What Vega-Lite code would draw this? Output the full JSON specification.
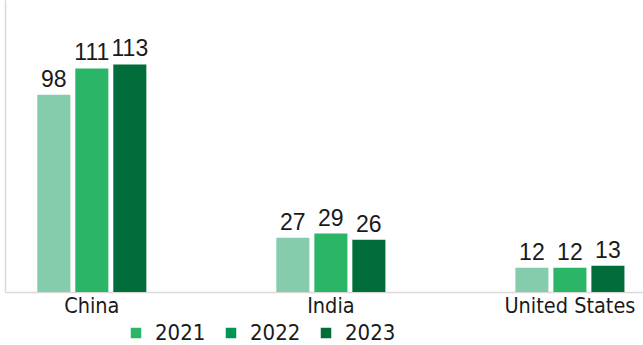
{
  "$schema": "https://vega.github.io/schema/vega-lite/v6.json",
  "width": 638,
  "height": 292,
  "autosize": {"type": "none"},
  "padding": {"left": 5, "top": 0, "right": 0, "bottom": 53},
  "background": "white",
  "config": {"view": {"stroke": null}},
  "data": {
    "values": [
      {"country": "China", "year": "2021", "value": 98},
      {"country": "China", "year": "2022", "value": 111},
      {"country": "China", "year": "2023", "value": 113},
      {"country": "India", "year": "2021", "value": 27},
      {"country": "India", "year": "2022", "value": 29},
      {"country": "India", "year": "2023", "value": 26},
      {"country": "United States", "year": "2021", "value": 12},
      {"country": "United States", "year": "2022", "value": 12},
      {"country": "United States", "year": "2023", "value": 13}
    ]
  },
  "encoding": {
    "x": {
      "field": "country", "type": "nominal", "sort": null,
      "scale": {"paddingInner": 0.5, "paddingOuter": 0.0845, "align": 0.67},
      "axis": {"title": null, "labelAngle": 0, "domainColor": "#d9d9d9", "domainWidth": 1.5, "ticks": false,
        "labelFontSize": 21.5, "labelFont": "DejaVu Sans Condensed, Roboto Condensed, Roboto", "labelColor": "#1a1a1a", "labelPadding": 3}
    },
    "xOffset": {"field": "year", "type": "nominal", "scale": {"paddingInner": 0.13, "paddingOuter": 0.1375}},
    "y": {
      "field": "value", "type": "quantitative", "scale": {"domain": [0, 145]},
      "axis": {"title": null, "labels": false, "ticks": false, "grid": false, "domainColor": "#d9d9d9", "domainWidth": 1.5}
    }
  },
  "layer": [
    {
      "mark": {"type": "bar"},
      "encoding": {
        "color": {
          "field": "year", "type": "nominal",
          "scale": {"domain": ["2021", "2022", "2023"], "range": ["#84ccac", "#2bb567", "#006d3a"]},
          "legend": null
        }
      }
    },
    {
      "mark": {"type": "bar"},
      "encoding": {
        "y": {"datum": 0, "type": "quantitative"},
        "color": {
          "field": "year", "type": "nominal",
          "scale": {"domain": ["2021", "2022", "2023"], "range": ["#2bb567", "#00964f", "#006d3a"]},
          "legend": {
            "title": null, "orient": "none", "direction": "horizontal",
            "legendX": 120, "legendY": 322,
            "symbolType": "square", "symbolSize": 110, "symbolStrokeWidth": 0, "symbolOpacity": 1,
            "labelFont": "DejaVu Sans Condensed, Roboto Condensed, Roboto", "labelFontSize": 22, "labelColor": "#1a1a1a",
            "labelOffset": 8, "columnPadding": 14
          }
        }
      }
    },
    {
      "mark": {"type": "text", "baseline": "bottom", "dy": -3, "fontSize": 23, "font": "Liberation Sans", "color": "#1a1a1a"},
      "encoding": {"text": {"field": "value", "type": "quantitative"}}
    }
  ],
  "resolve": {"scale": {"color": "independent"}}
}
